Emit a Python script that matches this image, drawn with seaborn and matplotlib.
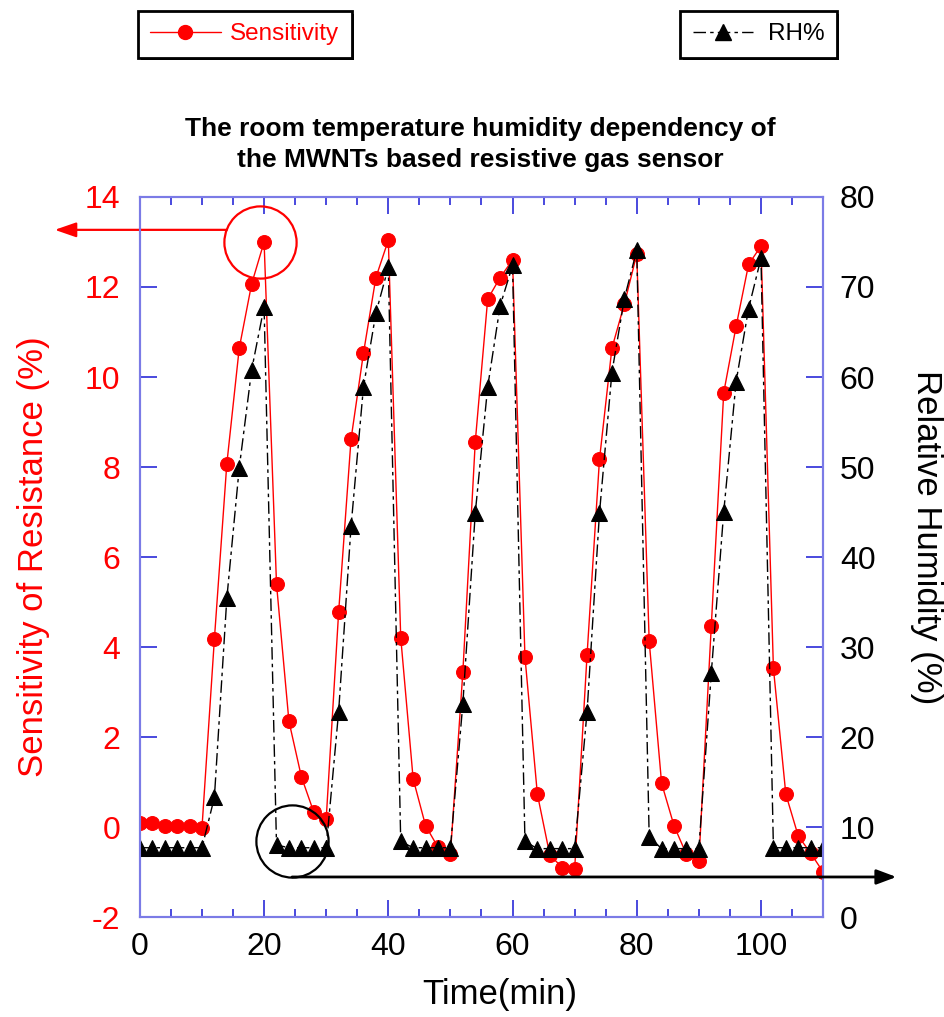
import matplotlib
matplotlib.use("Agg")
import matplotlib.pyplot as plt
import seaborn as sns
import pandas as pd
from matplotlib.ticker import MultipleLocator
from matplotlib.lines import Line2D

# Sampling times (min) and the two measured series
time_min = list(range(0, 112, 2))
sensitivity = [
    0.10, 0.08, 0.03, 0.02, 0.02, -0.02,
    4.18, 8.07, 10.64, 12.07, 13.00,
    5.40, 2.35, 1.12, 0.33, 0.18,
    4.77, 8.62, 10.53, 12.21, 13.04,
    4.21, 1.07, 0.03, -0.45, -0.60,
    3.44, 8.56, 11.73, 12.21, 12.60,
    3.78, 0.73, -0.62, -0.90, -0.94,
    3.83, 8.17, 10.64, 11.62, 12.73,
    4.13, 0.97, 0.03, -0.61, -0.76,
    4.47, 9.65, 11.13, 12.50, 12.91,
    3.53, 0.73, -0.20, -0.58, -1.00,
]
rh = [
    7.7, 7.7, 7.7, 7.7, 7.7, 7.7,
    13.3, 35.4, 49.9, 60.8, 67.8,
    8.0, 7.7, 7.7, 7.7, 7.7,
    22.8, 43.4, 58.9, 67.1, 72.2,
    8.4, 7.7, 7.7, 7.7, 7.7,
    23.7, 44.9, 58.9, 67.9, 72.4,
    8.4, 7.6, 7.6, 7.6, 7.6,
    22.8, 44.9, 60.5, 68.7, 74.1,
    8.9, 7.6, 7.6, 7.6, 7.6,
    27.1, 45.0, 59.5, 67.6, 73.2,
    7.7, 7.7, 7.7, 7.7, 7.7,
]
sens_ticks = list(range(-2, 15, 2))
rh_ticks = list(range(0, 81, 10))
time_ticks = list(range(0, 101, 20))

title_text = ("The room temperature humidity dependency of\n"
              "the MWNTs based resistive gas sensor")

sns.set_style("white")
plt.rcParams["font.family"] = ["Liberation Sans", "DejaVu Sans"]
plt.rcParams["axes.unicode_minus"] = False
plt.rcParams["text.color"] = "black"

df = pd.DataFrame({"time": time_min, "sens": sensitivity, "rh": rh})

SPINE = "#7b7be6"
TICK = "#2a2ad8"
RH_DASH = (0, (9, 3, 2.5, 3))

fig = plt.figure(figsize=(9.45, 10.17), dpi=100)
ax = fig.add_axes([0.148, 0.0983, 0.723, 0.708])
ax2 = ax.twinx()

sns.lineplot(data=df, x="time", y="sens", ax=ax, color="red", lw=1.0,
             marker="o", markersize=10, markeredgecolor="red",
             markerfacecolor="red", legend=False)
sns.lineplot(data=df, x="time", y="rh", ax=ax2, color="black", lw=1.0,
             marker="^", markersize=11, markeredgecolor="black",
             markerfacecolor="black", legend=False)
ax2.get_lines()[0].set_linestyle(RH_DASH)

ax.set_xlim(0, 110)
ax.set_ylim(-2, 14)
ax2.set_ylim(0, 80)
ax.set_xticks(time_ticks)
ax.xaxis.set_minor_locator(MultipleLocator(5))
ax.set_yticks(sens_ticks)
ax2.set_yticks(rh_ticks)

for a in (ax, ax2):
    for s in a.spines.values():
        s.set_color(SPINE)
        s.set_linewidth(1.5)

ax.tick_params(axis="x", which="major", direction="in", length=12, width=1.2,
               color=TICK, top=True, bottom=True, labelsize=23, pad=11,
               labelcolor="black")
ax.tick_params(axis="x", which="minor", direction="in", length=6, width=1.2,
               color=TICK, top=True, bottom=True)
ax.tick_params(axis="y", which="major", direction="in", length=12, width=1.2,
               color=TICK, left=True, right=False, labelsize=23, pad=14,
               labelcolor="red")
ax2.tick_params(axis="y", which="major", direction="in", length=12, width=1.2,
                color=TICK, right=True, labelsize=23, pad=12,
                labelcolor="black")

ax.set_xlabel("Time(min)", fontsize=25, color="black", va="center")
ax.xaxis.set_label_coords(0.527, -0.108)
ax.set_ylabel("Sensitivity of Resistance (%)", fontsize=25, color="red")
ax.yaxis.set_label_coords(-0.132, 0.501)
ax2.set_ylabel("Relative Humidity (%)", fontsize=25, color="black",
               rotation=270, va="center")
ax2.yaxis.set_label_coords(1.151, 0.527)

fig.text(0.508, 0.858, title_text, ha="center", va="center",
         fontsize=19, fontweight="bold", linespacing=1.4, color="black")

# Highlight the first sensitivity peak and point it to the left axis
peak_i = 10
px, py = time_min[peak_i], sensitivity[peak_i]
ax.plot([px - 0.65], [py], marker="o", markersize=52, mfc="none",
        mec="red", mew=1.6, clip_on=False, zorder=5)
ax.annotate("", xy=(-13.7, py + 0.27), xytext=(px - 6.0, py + 0.27),
            xycoords="data", textcoords="data", annotation_clip=False,
            arrowprops=dict(arrowstyle="-|>,head_length=1.3,head_width=0.45",
                            color="red", lw=1.6, shrinkA=0, shrinkB=0))

# Highlight the humidity baseline and point it to the right axis
base_i = 12
bx, by = time_min[base_i] + 0.5, rh[base_i] + 0.75
ax2.plot([bx], [by], marker="o", markersize=52, mfc="none",
         mec="black", mew=1.6, clip_on=False, zorder=5)
ax2.annotate("", xy=(121.8, by - 4.0), xytext=(bx, by - 4.0),
             xycoords="data", textcoords="data", annotation_clip=False,
             arrowprops=dict(arrowstyle="-|>,head_length=1.2,head_width=0.45",
                             color="black", lw=2.0, shrinkA=0, shrinkB=0))

# Two separate framed legends with hard shadows
sens_handle = Line2D([], [], color="red", lw=1.0, marker="o", markersize=10,
                     markerfacecolor="red", markeredgecolor="red")
rh_handle = Line2D([], [], color="black", lw=1.0, marker="^", markersize=11,
                   markerfacecolor="black", markeredgecolor="black",
                   linestyle=RH_DASH)
shadow = {"color": "black", "alpha": 1.0, "linewidth": 0}
leg1 = fig.legend([sens_handle], ["Sensitivity"], loc="upper left",
                  bbox_to_anchor=(0.146, 0.989), frameon=True, fancybox=False,
                  shadow=shadow, framealpha=1, edgecolor="black",
                  fontsize=17.5, handlelength=2.9, borderpad=0.5,
                  handletextpad=0.4, borderaxespad=0)
for t in leg1.get_texts():
    t.set_color("red")
leg1.get_frame().set_linewidth(2.0)
leg2 = fig.legend([rh_handle], ["RH%"], loc="upper left",
                  bbox_to_anchor=(0.72, 0.989), frameon=True, fancybox=False,
                  shadow=shadow, framealpha=1, edgecolor="black",
                  fontsize=17.5, handlelength=2.5, borderpad=0.5,
                  handletextpad=0.6, borderaxespad=0)
leg2.get_frame().set_linewidth(2.0)

fig.savefig("out.png", dpi=100)
